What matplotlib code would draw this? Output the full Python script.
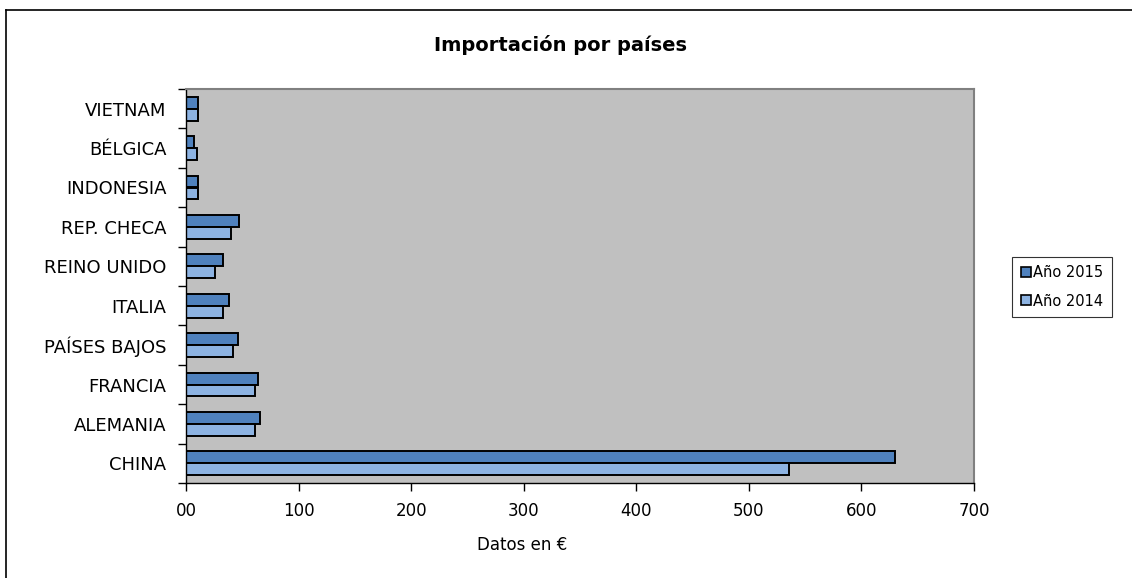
import matplotlib
matplotlib.use("Agg")
import numpy as np
import matplotlib.pyplot as plt
from matplotlib.lines import Line2D
from matplotlib.ticker import FixedLocator, FixedFormatter

plt.rcParams['font.family'] = ['DejaVu Sans']

# data (bottom to top, as drawn)
paises = ["CHINA", "ALEMANIA", "FRANCIA", "PAÍSES BAJOS", "ITALIA",
          "REINO UNIDO", "REP. CHECA", "INDONESIA", "BÉLGICA", "VIETNAM"]
anio_2015 = [630, 65.5, 64, 46.5, 38.5, 32.5, 47, 11, 7, 10.5]
anio_2014 = [536, 61.5, 61.5, 42, 32.5, 26, 40, 11, 9.5, 11]
xticks = [0, 100, 200, 300, 400, 500, 600, 700]
xtick_labels = ["00", "100", "200", "300", "400", "500", "600", "700"]

c15 = "#4F81BD"
c14 = "#8DB3E2"

fig = plt.figure(figsize=(11.32, 5.78), dpi=100)
ax = fig.add_axes([186/1132, 1 - 483/578, (974 - 186)/1132, (483 - 89)/578])

y = np.arange(len(paises))
h = 0.3
ax.barh(y + h/2, anio_2015, height=h, color=c15, edgecolor="black", linewidth=1.4, label="Año 2015")
ax.barh(y - h/2, anio_2014, height=h, color=c14, edgecolor="black", linewidth=1.4, label="Año 2014")

ax.set_facecolor("#C0C0C0")
ax.set_xlim(0, 700)
ax.set_ylim(-0.5, len(paises) - 0.5)

ax.yaxis.set_major_locator(FixedLocator(np.arange(-0.5, len(paises), 1)))
ax.yaxis.set_major_formatter(FixedFormatter([]))
ax.yaxis.set_minor_locator(FixedLocator(y))
ax.yaxis.set_minor_formatter(FixedFormatter(paises))
ax.tick_params(axis="y", which="major", length=6, width=1, color="black")
ax.tick_params(axis="y", which="minor", length=0, pad=14, labelsize=13)

ax.xaxis.set_major_locator(FixedLocator(xticks))
ax.xaxis.set_major_formatter(FixedFormatter(xtick_labels))
ax.tick_params(axis="x", length=6, width=1, pad=8, labelsize=12)

for s in ["top", "right"]:
    ax.spines[s].set_color("#808080")
    ax.spines[s].set_linewidth(1.5)
for s in ["left", "bottom"]:
    ax.spines[s].set_color("black")
    ax.spines[s].set_linewidth(1)

ax.set_xlabel("Datos en €", fontsize=12)
ax.xaxis.set_label_coords((522 - 186) / (974 - 186), -(545 - 483) / (483 - 89))
ax.xaxis.label.set_va("center")
fig.text(561/1132, 1 - 45/578, "Importación por países", ha="center", va="center",
         fontsize=14, fontweight="bold")

handles = [Line2D([], [], marker="s", linestyle="none", markersize=7.5,
                  markerfacecolor=c, markeredgecolor="black", markeredgewidth=1.2)
           for c in (c15, c14)]
leg = fig.legend(handles, ["Año 2015", "Año 2014"], loc="center left",
                 bbox_to_anchor=(1012/1132, 1 - 287/578), fontsize=10.5,
                 frameon=True, fancybox=False, handlelength=0.7, handletextpad=0.15,
                 borderpad=0.6, labelspacing=0.9, borderaxespad=0)
leg.get_frame().set_edgecolor("black")
leg.get_frame().set_linewidth(0.8)

# outer chart border (top and left visible)
fig.add_artist(Line2D([6/1132, 6/1132], [0, 1 - 10/578], transform=fig.transFigure,
                      color="black", linewidth=1.2))
fig.add_artist(Line2D([6/1132, 1], [1 - 10/578, 1 - 10/578], transform=fig.transFigure,
                      color="black", linewidth=1.2))

fig.savefig("out.png", dpi=100)
